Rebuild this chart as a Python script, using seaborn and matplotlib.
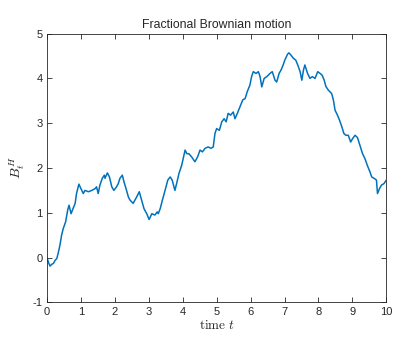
import matplotlib
matplotlib.use("Agg")
import matplotlib.pyplot as plt
import seaborn as sns
import pandas as pd

# Sample path of a fractional Brownian motion B_t^H on [0, 10]
time = [
    0.00, 0.05, 0.09, 0.14, 0.19, 0.24, 0.29, 0.33, 0.38, 0.43, 0.48, 0.55,
    0.61, 0.65, 0.71, 0.75, 0.83, 0.87, 0.94, 1.00, 1.07, 1.12, 1.22, 1.32,
    1.42, 1.46, 1.51, 1.56, 1.63, 1.69, 1.71, 1.78, 1.84, 1.91, 1.97, 2.05,
    2.10, 2.15, 2.22, 2.27, 2.33, 2.40, 2.45, 2.54, 2.64, 2.72, 2.79, 2.86,
    2.94, 3.01, 3.09, 3.18, 3.25, 3.28, 3.34, 3.40, 3.48, 3.56, 3.63, 3.69,
    3.77, 3.82, 3.89, 3.97, 4.07, 4.12, 4.18, 4.26, 4.36, 4.44, 4.51, 4.58,
    4.66, 4.75, 4.83, 4.90, 4.95, 5.00, 5.08, 5.15, 5.22, 5.28, 5.34, 5.41,
    5.49, 5.54, 5.61, 5.69, 5.77, 5.84, 5.90, 5.98, 6.03, 6.08, 6.16, 6.23,
    6.28, 6.33, 6.40, 6.48, 6.57, 6.64, 6.72, 6.77, 6.84, 6.90, 6.96, 7.01,
    7.09, 7.13, 7.19, 7.26, 7.33, 7.39, 7.46, 7.51, 7.56, 7.60, 7.68, 7.75,
    7.82, 7.90, 7.98, 8.05, 8.11, 8.17, 8.22, 8.29, 8.39, 8.44, 8.49, 8.56,
    8.62, 8.69, 8.75, 8.81, 8.88, 8.95, 9.01, 9.08, 9.15, 9.22, 9.30, 9.37,
    9.44, 9.52, 9.57, 9.64, 9.71, 9.74, 9.80, 9.86, 9.93, 10.00,
]
path = [
    0.00, -0.12, -0.19, -0.15, -0.13, -0.06, -0.02, 0.10, 0.27, 0.50, 0.65, 0.80,
    1.06, 1.17, 0.98, 1.06, 1.21, 1.43, 1.64, 1.54, 1.43, 1.50, 1.47, 1.50,
    1.54, 1.58, 1.43, 1.62, 1.77, 1.84, 1.77, 1.89, 1.80, 1.58, 1.50, 1.58,
    1.65, 1.77, 1.84, 1.69, 1.54, 1.35, 1.28, 1.21, 1.35, 1.47, 1.28, 1.09,
    0.98, 0.85, 0.98, 0.95, 1.02, 0.98, 1.10, 1.28, 1.50, 1.73, 1.80, 1.73,
    1.50, 1.65, 1.88, 2.06, 2.40, 2.32, 2.32, 2.25, 2.14, 2.25, 2.40, 2.36,
    2.44, 2.47, 2.44, 2.47, 2.77, 2.88, 2.84, 3.03, 3.10, 3.03, 3.22, 3.18,
    3.25, 3.10, 3.22, 3.37, 3.52, 3.55, 3.70, 3.85, 4.04, 4.15, 4.11, 4.15,
    4.04, 3.81, 4.00, 4.04, 4.11, 4.15, 3.96, 3.92, 4.11, 4.19, 4.30, 4.41,
    4.54, 4.57, 4.52, 4.45, 4.41, 4.30, 4.15, 3.96, 4.19, 4.30, 4.11, 4.00,
    4.04, 4.00, 4.15, 4.11, 4.07, 3.96, 3.82, 3.74, 3.66, 3.52, 3.29, 3.18,
    3.07, 2.92, 2.77, 2.73, 2.73, 2.58, 2.66, 2.73, 2.68, 2.51, 2.32, 2.21,
    2.06, 1.91, 1.80, 1.77, 1.73, 1.43, 1.54, 1.62, 1.65, 1.73,
]
x_ticks = [0, 1, 2, 3, 4, 5, 6, 7, 8, 9, 10]
y_ticks = [-1, 0, 1, 2, 3, 4, 5]

sns.set_theme(style="ticks")
plt.rcParams.update({
    "font.family": ["Liberation Sans", "DejaVu Sans"],
    "mathtext.fontset": "cm",
    "axes.unicode_minus": False,
    "xtick.direction": "in",
    "ytick.direction": "in",
    "xtick.top": True,
    "ytick.right": True,
    "axes.edgecolor": "#262626",
    "xtick.color": "#262626",
    "ytick.color": "#262626",
    "axes.linewidth": 0.6,
    "xtick.major.width": 0.6,
    "ytick.major.width": 0.6,
    "xtick.major.size": 3.5,
    "ytick.major.size": 3.5,
})

df = pd.DataFrame({"t": time, "B": path})

fig = plt.figure(figsize=(4.1, 3.5), dpi=100)
ax = fig.add_axes([0.1146, 0.136, 0.8276, 0.768])
sns.lineplot(data=df, x="t", y="B", ax=ax, color="#0072BD",
             linewidth=1.1, estimator=None, sort=False)

ax.set_xlim(0, 10)
ax.set_ylim(-1, 5)
ax.set_xticks(x_ticks)
ax.set_yticks(y_ticks)
ax.set_xticklabels([str(v) for v in x_ticks], fontsize=8)
ax.set_yticklabels([str(v) for v in y_ticks], fontsize=8)
ax.tick_params(axis="both", pad=3)
for side in ["top", "right", "left", "bottom"]:
    ax.spines[side].set_visible(True)

ax.set_title("Fractional Brownian motion", fontsize=8.8, pad=4)
ax.set_xlabel(r"$\mathrm{time}\ t$", fontsize=9.5, labelpad=2)
ax.set_ylabel(r"$B_t^H$", fontsize=10, labelpad=4)

fig.savefig("out.png", dpi=100, facecolor="white")
